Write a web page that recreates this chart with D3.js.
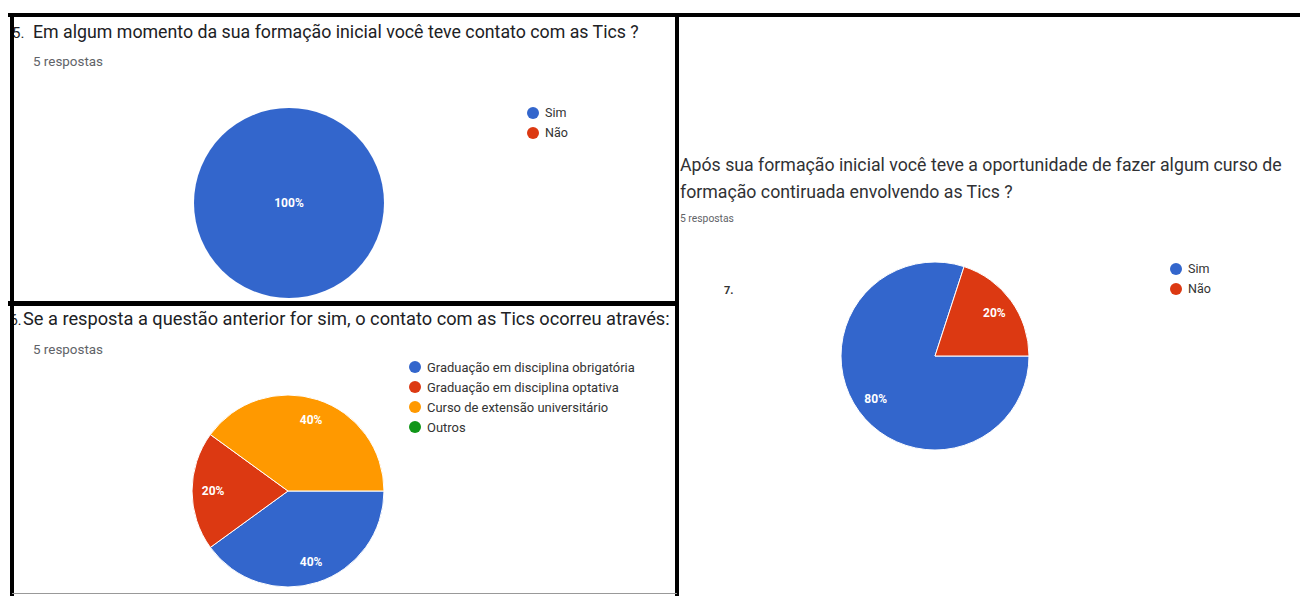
<!DOCTYPE html>
<html><head><meta charset="utf-8">
<script src="https://cdn.jsdelivr.net/npm/d3@7"></script>
<style>body{margin:0;background:#fff;}svg{display:block;}</style>
</head><body>
<svg id="c" width="1300" height="596"></svg>
<script>
const q5Title = "Em algum momento da sua formação inicial você teve contato com as Tics ?";
const q5Labels = ["Sim", "Não"];
const q5Values = [5, 0];

const q6Title = "Se a resposta a questão anterior for sim, o contato com as Tics ocorreu através:";
const q6Labels = ["Graduação em disciplina obrigatória", "Graduação em disciplina optativa", "Curso de extensão universitário", "Outros"];
const q6Values = [2, 1, 2, 0];

const q7TitleLines = ["Após sua formação inicial você teve a oportunidade de fazer algum curso de", "formação contiruada envolvendo as Tics ?"];
const q7Labels = ["Sim", "Não"];
const q7Values = [4, 1];

const responsesText = "5 respostas";
const palette = ["#3366cc", "#dc3912", "#ff9900", "#109618"];

const svg = d3.select("#c");
const font = "Roboto, 'Noto Sans', Arial, sans-serif";

function fitText(sel, width) {
  const w = sel.node().getComputedTextLength();
  const fs = parseFloat(sel.attr("font-size"));
  sel.attr("font-size", (fs * width / w).toFixed(2));
  return sel;
}

function drawPie(g, values, cx, cy, r) {
  const total = d3.sum(values);
  const pie = d3.pie().sort(null).value(d => d)
    .startAngle(Math.PI / 2).endAngle(Math.PI / 2 + 2 * Math.PI);
  const arcs = pie(values).filter(a => a.value > 0);
  const arc = d3.arc().innerRadius(0).outerRadius(r);
  const lab = d3.arc().innerRadius(r * 0.78).outerRadius(r * 0.78);
  const pg = g.append("g").attr("transform", `translate(${cx},${cy})`);
  pg.selectAll("path").data(arcs).join("path")
    .attr("d", arc).attr("fill", d => palette[d.index])
    .attr("stroke", "#fff").attr("stroke-width", arcs.length > 1 ? 1 : 0);
  pg.selectAll("text").data(arcs).join("text")
    .attr("transform", d => d.value === total ? "translate(0,0)" : `translate(${lab.centroid(d)})`)
    .attr("text-anchor", "middle").attr("dy", "0.35em")
    .attr("fill", "#fff").attr("font-family", font).attr("font-weight", "bold")
    .attr("font-size", 12)
    .text(d => d3.format(".0%")(d.value / total));
}

function drawLegend(g, labels, x, y, step, fs) {
  const lg = g.append("g");
  labels.forEach((l, i) => {
    lg.append("circle").attr("cx", x).attr("cy", y + i * step).attr("r", 6).attr("fill", palette[i]);
    lg.append("text").attr("x", x + 12).attr("y", y + i * step).attr("dy", "0.35em")
      .attr("font-family", font).attr("font-size", fs).attr("fill", "#333").text(l);
  });
  return lg;
}

const defs = svg.append("defs");
defs.append("clipPath").attr("id", "clip1").append("rect").attr("x", 12).attr("y", 15).attr("width", 665).attr("height", 287);

// Panel 1
const p1 = svg.append("g");
const p1c = p1.append("g").attr("clip-path", "url(#clip1)");
drawPie(p1c, q5Values, 289, 203, 95);
p1.append("text").attr("x", 12).attr("y", 38).attr("font-family", font).attr("font-size", 15).attr("fill", "#202124").text("5.");
fitText(p1.append("text").attr("x", 33).attr("y", 38).attr("font-family", font).attr("font-size", 16).attr("fill", "#202124").text(q5Title), 606);
fitText(p1.append("text").attr("x", 33).attr("y", 66).attr("font-family", font).attr("font-size", 11).attr("fill", "#5f6368").text(responsesText), 70);
drawLegend(p1, q5Labels, 533, 113, 20, 12.5);

// Panel 2
const p2 = svg.append("g");
drawPie(p2, q6Values, 288, 491, 96);
p2.append("text").attr("x", 10).attr("y", 325).attr("font-family", font).attr("font-size", 14).attr("fill", "#202124").text("6.");
fitText(p2.append("text").attr("x", 23).attr("y", 325).attr("font-family", font).attr("font-size", 16).attr("fill", "#202124").text(q6Title), 647);
fitText(p2.append("text").attr("x", 33).attr("y", 354).attr("font-family", font).attr("font-size", 11).attr("fill", "#5f6368").text(responsesText), 70);
const lg2 = drawLegend(p2, q6Labels, 415, 367, 20, 12.5);
const lg2first = lg2.select("text").node();
const lg2fs = 12.5 * 208 / lg2first.getComputedTextLength();
lg2.selectAll("text").attr("font-size", lg2fs.toFixed(2));

// Panel 3
const p3 = svg.append("g");
drawPie(p3, q7Values, 935, 356, 94);
const l1 = fitText(p3.append("text").attr("x", 680).attr("y", 171).attr("font-family", font).attr("font-size", 16).attr("fill", "#303134").text(q7TitleLines[0]), 602);
p3.append("text").attr("x", 680).attr("y", 198).attr("font-family", font).attr("font-size", l1.attr("font-size")).attr("fill", "#303134").text(q7TitleLines[1]);
fitText(p3.append("text").attr("x", 680).attr("y", 222).attr("font-family", font).attr("font-size", 10).attr("fill", "#5f6368").text(responsesText), 54);
p3.append("text").attr("x", 724).attr("y", 294).attr("font-family", font).attr("font-size", 11).attr("font-weight", "bold").attr("fill", "#333").text("7.");
drawLegend(p3, q7Labels, 1176, 269, 20, 12.5);

// Frame lines
const frame = svg.append("g").attr("stroke", "#000");
frame.append("line").attr("x1", 8).attr("x2", 1300).attr("y1", 15).attr("y2", 15).attr("stroke-width", 4);
frame.append("line").attr("x1", 12).attr("x2", 12).attr("y1", 13).attr("y2", 596).attr("stroke-width", 4);
frame.append("line").attr("x1", 677).attr("x2", 677).attr("y1", 15).attr("y2", 596).attr("stroke-width", 4);
frame.append("line").attr("x1", 8).attr("x2", 679).attr("y1", 303.5).attr("y2", 303.5).attr("stroke-width", 5);
frame.append("line").attr("x1", 12).attr("x2", 677).attr("y1", 593.5).attr("y2", 593.5).attr("stroke-width", 1).attr("stroke", "#999");
</script>
</body></html>
